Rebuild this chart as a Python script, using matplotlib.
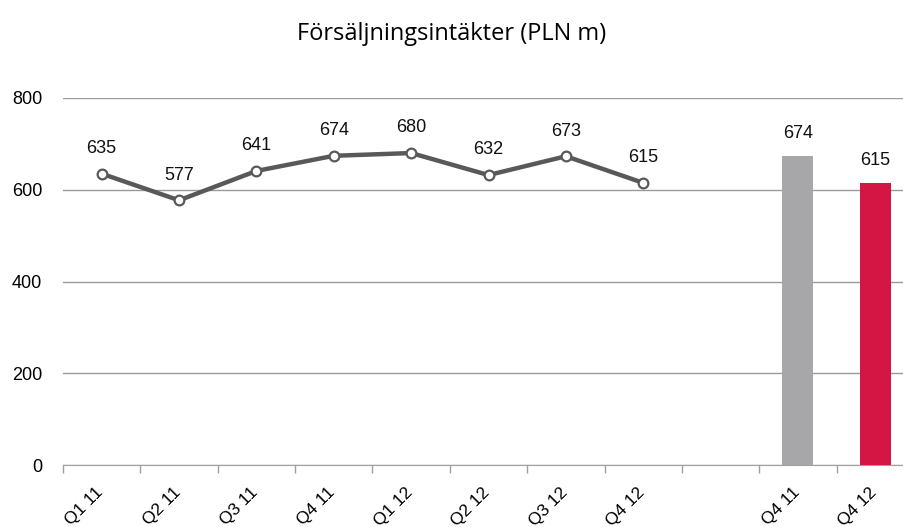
import numpy as np
import matplotlib.pyplot as plt

# data
quarters = ["Q1 11", "Q2 11", "Q3 11", "Q4 11", "Q1 12", "Q2 12", "Q3 12", "Q4 12"]
revenue = [635, 577, 641, 674, 680, 632, 673, 615]
bar_labels = ["Q4 11", "Q4 12"]
bar_values = [674, 615]
bar_colors = ["#A7A7A9", "#D41645"]

plt.rcParams['font.family'] = ['Liberation Sans', 'DejaVu Sans']

fig = plt.figure(figsize=(9.04, 5.27), dpi=100)
ax = fig.add_axes([63 / 904, 62 / 527, 851 / 904, (465 - 98) / 527])

x_line = np.arange(len(quarters))
x_bars = np.arange(len(bar_values)) + len(quarters) + 1

ax.plot(x_line, revenue, color="#595959", lw=3.2, marker="o", ms=7,
        mfc="white", mec="#595959", mew=1.6, zorder=4, clip_on=False)
for x, v in zip(x_line, revenue):
    ax.annotate(str(v), (x, v), xytext=(0, 12), textcoords="offset points",
                ha="center", va="bottom", fontsize=13, color="#111111")

ax.bar(x_bars, bar_values, width=0.4, color=bar_colors, zorder=3)
for x, v in zip(x_bars, bar_values):
    ax.annotate(str(v), (x, v), xytext=(0, 10), textcoords="offset points",
                ha="center", va="bottom", fontsize=13, color="#111111")

n = len(quarters) + 1 + len(bar_values)
ax.set_xlim(-0.5, n - 0.5)
ax.set_ylim(0, 800)
ax.set_yticks([0, 200, 400, 600, 800])
ax.yaxis.grid(True, color="#9A9A9A", lw=1)
ax.set_axisbelow(True)

# tick marks at category boundaries, labels slightly left of centres
ax.set_xticks(np.arange(-0.5, n - 0.5, 1))
ax.set_xticklabels([])
label_pos = np.concatenate([x_line, x_bars]) - 0.08
ax.set_xticks(label_pos, minor=True)
ax.set_xticklabels(quarters + bar_labels, minor=True, rotation=45,
                   ha="right", rotation_mode="anchor", fontsize=12.5)
ax.tick_params(axis="x", which="major", length=6, color="#A0A0A0", width=1)
ax.tick_params(axis="x", which="minor", length=0, pad=14)
ax.tick_params(axis="y", length=0, labelsize=13, pad=15)

for s in ["top", "right", "left"]:
    ax.spines[s].set_visible(False)
ax.spines["bottom"].set_color("#A0A0A0")

fig.text(0.5, 1 - 34 / 527, "Försäljningsintäkter (PLN m)", ha="center",
         va="center", fontsize=17, family=["Open Sans", "DejaVu Sans"])

fig.savefig("out.png", dpi=100)
